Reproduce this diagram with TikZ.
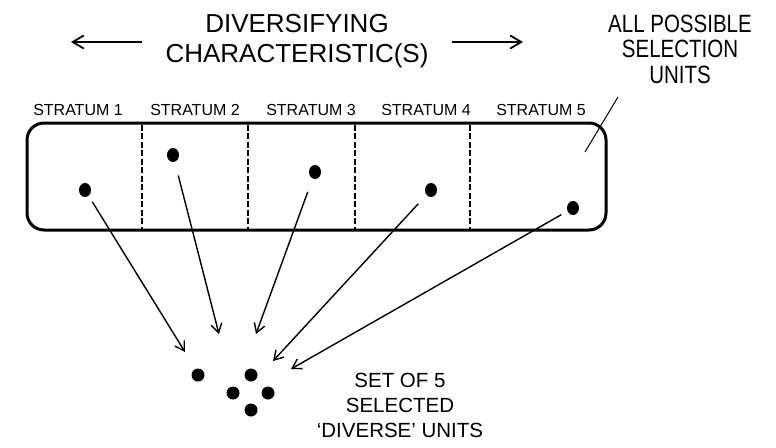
\documentclass[tikz,border=0pt]{standalone}
\usepackage{fontspec}
\setmainfont{Liberation Sans}
\newfontfamily\narrowsf{Liberation Sans}[FakeStretch=0.82]
\usetikzlibrary{arrows.meta,shapes.geometric}
\tikzset{
  boxdot/.style={ellipse, fill=black, inner sep=0pt, minimum width=12pt, minimum height=14pt},
  seldot/.style={circle, fill=black, inner sep=0pt, minimum size=13pt},
  sel/.style={line width=1.4pt, -{Straight Barb[length=9pt,width=11pt,line width=1.4pt]}},
  dirarrow/.style={line width=1.8pt, -{Straight Barb[length=11pt,width=13pt,line width=1.8pt]}},
  divider/.style={line width=1.8pt, dash pattern=on 6pt off 2.5pt},
  stratlabel/.style={anchor=base, inner sep=0pt, font=\fontsize{16}{19}\selectfont},
  bigtext/.style={anchor=base, inner sep=0pt, align=center, font=\fontsize{26}{29.5}\selectfont},
  sidetext/.style={anchor=base, inner sep=0pt, align=center, font=\narrowsf\fontsize{25}{25.5}\selectfont},
  settext/.style={anchor=base, inner sep=0pt, align=center, font=\fontsize{20.5}{25}\selectfont}
}
\begin{document}
\begin{tikzpicture}[x=1pt,y=-1pt]
\useasboundingbox (0,0) rectangle (776,447);

% title and direction arrows (anchor = baseline of last line)
\node[bigtext] (title) at (297,62) {DIVERSIFYING\\CHARACTERISTIC(S)};
\coordinate (la1) at (142,42);
\coordinate (la2) at (71,42);
\coordinate (ra1) at (452,42);
\coordinate (ra2) at (523,42);
\draw[dirarrow] (la1) -- (la2);
\draw[dirarrow] (ra1) -- (ra2);

% side label
\node[sidetext] (all) at (680,83) {ALL POSSIBLE\\SELECTION\\UNITS};
\coordinate (lead1) at (618,97);
\coordinate (lead2) at (585,152);
\draw[line width=1pt] (lead1) -- (lead2);

% stratum labels
\node[stratlabel] (s1) at (78,115) {STRATUM 1};
\node[stratlabel] (s2) at (195,115) {STRATUM 2};
\node[stratlabel] (s3) at (311,115) {STRATUM 3};
\node[stratlabel] (s4) at (426,115) {STRATUM 4};
\node[stratlabel] (s5) at (541,115) {STRATUM 5};

% box
\draw[line width=3pt, rounded corners=17pt] (27,123) rectangle (606,230);
\foreach \xx in {142,248,355,470}{
  \draw[divider] (\xx,124.5) -- (\xx,228.5);
}

% dots in strata
\node[boxdot] (d1) at (85,190) {};
\node[boxdot] (d2) at (173,155) {};
\node[boxdot] (d3) at (315,172) {};
\node[boxdot] (d4) at (431,190) {};
\node[boxdot] (d5) at (573,208) {};

% selected dots
\node[seldot] (e1) at (198,375) {};
\node[seldot] (e2) at (251,375) {};
\node[seldot] (e3) at (233,393) {};
\node[seldot] (e4) at (268,393) {};
\node[seldot] (e5) at (251,410) {};

% arrow targets
\coordinate (t1) at (185,352);
\coordinate (t2) at (219,334);
\coordinate (t3) at (256,334);
\coordinate (t4) at (273,361);
\coordinate (t5) at (291,369);

\draw[sel, shorten <=7pt] (d1) -- (t1);
\draw[sel, shorten <=14pt] (d2) -- (t2);
\draw[sel, shorten <=14pt] (d3) -- (t3);
\draw[sel, shorten <=12pt] (d4) -- (t4);
\draw[sel, shorten <=7pt] (d5) -- (t5);

% bottom label
\node[settext] (set) at (400,437) {SET OF 5\\SELECTED\\`DIVERSE' UNITS};
\end{tikzpicture}
\end{document}
